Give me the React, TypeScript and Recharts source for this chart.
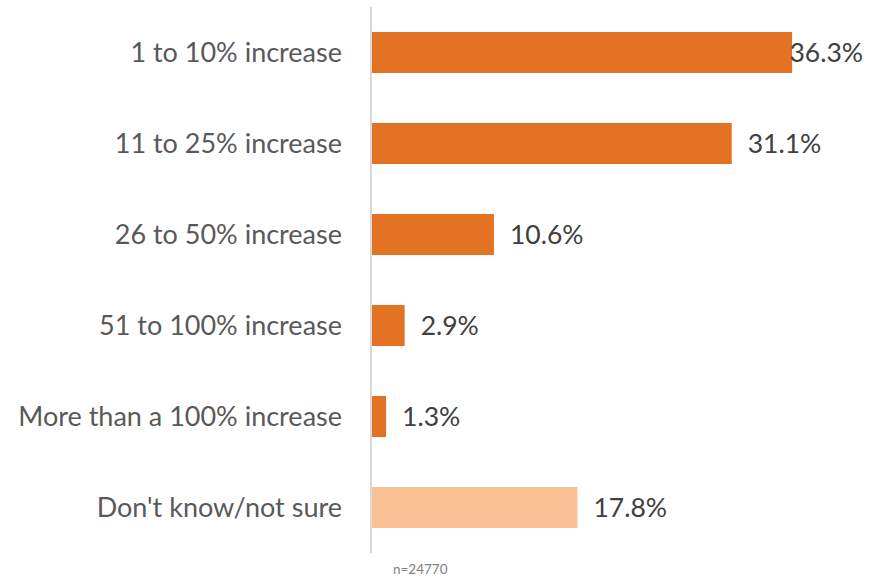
import { Bar, BarChart, Cell, LabelList, XAxis, YAxis } from "recharts";

const categories = [
  "1 to 10% increase",
  "11 to 25% increase",
  "26 to 50% increase",
  "51 to 100% increase",
  "More than a 100% increase",
  "Don't know/not sure",
];
const shares = [36.3, 31.1, 10.6, 2.9, 1.3, 17.8];
const barColors = ["#E37222", "#E37222", "#E37222", "#E37222", "#E37222", "#F9C194"];
const sampleNote = "n=24770";

const chartData = categories.map((c, i) => ({ name: c, value: shares[i] }));

const FONT = "Lato, 'Open Sans', sans-serif";

function ValueLabel(props: any) {
  const { x, y, width, height, value } = props;
  const text = `${Number(value).toFixed(1)}%`;
  const end = x + width;
  const approxW = text.length * 14.4;
  const rightLimit = 863;
  let tx = end + 16;
  let anchor: "start" | "end" = "start";
  if (tx + approxW > rightLimit) {
    tx = rightLimit;
    anchor = "end";
  }
  return (
    <text
      x={tx}
      y={y + height / 2}
      dy="0.36em"
      textAnchor={anchor}
      fill="#404040"
      fontSize={26.5}
      fontFamily={FONT}
    >
      {text}
    </text>
  );
}

function NoteLabel(props: any) {
  const vb = props.viewBox || {};
  return (
    <text
      x={vb.x + 22}
      y={vb.y + 21}
      fill="#808080"
      fontSize={13.5}
      fontFamily={FONT}
    >
      {sampleNote}
    </text>
  );
}

export default function App() {
  return (
    <div style={{ position: "absolute", left: 0, top: 0, background: "#fff" }}>
      <BarChart
        width={877}
        height={577}
        data={chartData}
        layout="vertical"
        margin={{ top: 7, right: 42, bottom: 0, left: 0 }}
        barSize={41}
      >
        <XAxis
          type="number"
          domain={[0, 40]}
          tick={false}
          axisLine={false}
          tickLine={false}
          height={24}
          label={<NoteLabel />}
        />
        <YAxis
          type="category"
          dataKey="name"
          width={371}
          tickLine={false}
          tickSize={0}
          tickMargin={29}
          axisLine={{ stroke: "#D9D9D9", strokeWidth: 2 }}
          tick={{ fontSize: 27, fill: "#595959", fontFamily: FONT }}
          interval={0}
        />
        <Bar dataKey="value" isAnimationActive={false}>
          {chartData.map((d, i) => (
            <Cell key={d.name} fill={barColors[i]} />
          ))}
          <LabelList dataKey="value" content={<ValueLabel />} />
        </Bar>
      </BarChart>
    </div>
  );
}
